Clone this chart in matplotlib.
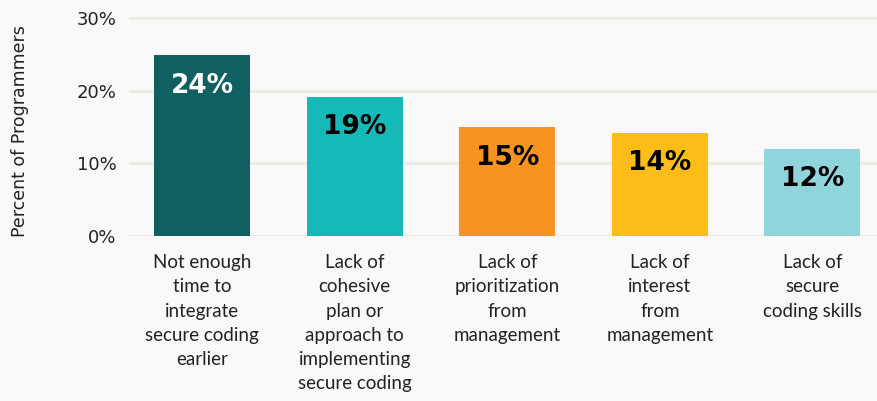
import matplotlib.pyplot as plt

# data
categories = [
    "Not enough\ntime to\nintegrate\nsecure coding\nearlier",
    "Lack of\ncohesive\nplan or\napproach to\nimplementing\nsecure coding",
    "Lack of\nprioritization\nfrom\nmanagement",
    "Lack of\ninterest\nfrom\nmanagement",
    "Lack of\nsecure\ncoding skills",
]
values = [24.9, 19.2, 15.0, 14.2, 12.0]
value_labels = ["24%", "19%", "15%", "14%", "12%"]
yticks = [0, 10, 20, 30]

colors = ["#0e6160", "#15b9b7", "#f69321", "#fcbd18", "#90d4dc"]
label_colors = ["white", "black", "black", "black", "black"]

plt.rcParams["font.family"] = ["DejaVu Sans"]

bg = "#f9f9f9"
txt = "#222222"
fig = plt.figure(figsize=(8.78, 4.01), dpi=100, facecolor=bg)
ax = fig.add_axes([129 / 878, 1 - 236 / 401, 749 / 878, 221.4 / 401])
ax.set_facecolor(bg)

x = range(len(categories))
ax.bar(x, values, width=0.63, color=colors, zorder=3)

for xi, v, lab, c in zip(x, values, value_labels, label_colors):
    ax.annotate(lab, (xi, v), xytext=(0, -22), textcoords="offset points",
                ha="center", va="center", fontsize=19, fontweight="bold",
                color=c, zorder=4)

ax.set_xlim(-0.48, 4.43)
ax.set_ylim(0, 30.5)
ax.set_yticks(yticks)
ax.set_yticklabels([f"{t}%" for t in yticks], fontsize=13, color=txt)
ax.set_xticks(list(x))
ax.set_xticklabels(categories, fontsize=13.5, color=txt, linespacing=1.52,
                   family=["Lato", "DejaVu Sans"])
ax.tick_params(axis="both", length=0)
ax.tick_params(axis="y", pad=9)
ax.tick_params(axis="x", pad=13)

ax.grid(axis="y", color="#ebebe3", linewidth=2, zorder=0)
for s in ax.spines.values():
    s.set_visible(False)

fig.text(20 / 878, 1 - 131 / 401, "Percent of Programmers", rotation=90,
         ha="center", va="center", fontsize=12.5, color=txt)

fig.savefig("out.png", dpi=100, facecolor=bg)
